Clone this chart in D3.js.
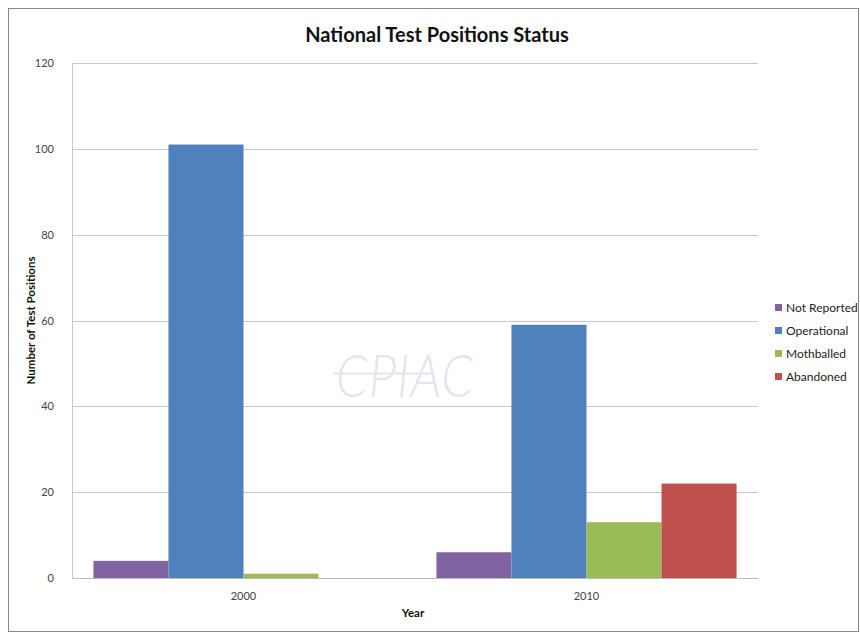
<!DOCTYPE html>
<html>
<head>
<meta charset="utf-8">
<script src="https://cdn.jsdelivr.net/npm/d3@7"></script>
<style>
  body { margin: 0; background: #fff; }
  svg { display: block; font-family: Lato, "Open Sans", sans-serif; }
</style>
</head>
<body>
<svg id="chart" width="860" height="633"></svg>
<script>
const years = ['2000', '2010'];
const statuses = ['Not Reported', 'Operational', 'Mothballed', 'Abandoned'];
const notReported = [4, 6];
const operational = [101, 59];
const mothballed = [1, 13];
const abandoned = [0, 22];
const yTicks = [0, 20, 40, 60, 80, 100, 120];

const colors = d3.scaleOrdinal().domain(statuses)
    .range(['#8064A2', '#4F81BD', '#9BBB59', '#C0504D']);

const rows = years.map((y, i) => ({
    year: y,
    values: [notReported[i], operational[i], mothballed[i], abandoned[i]]
}));

const svg = d3.select('#chart');
const margin = { top: 63, right: 102, bottom: 55, left: 72 };
const width = 860 - margin.left - margin.right;
const height = 633 - margin.top - margin.bottom;

// outer frame
svg.append('rect')
    .attr('x', 8.5).attr('y', 8.5)
    .attr('width', 850).attr('height', 623)
    .attr('fill', 'none').attr('stroke', '#888');

svg.append('text')
    .attr('x', 437).attr('y', 42)
    .attr('text-anchor', 'middle')
    .style('font-size', '20px').style('font-weight', 'bold')
    .attr('fill', '#111')
    .text('National Test Positions Status');

const g = svg.append('g').attr('transform', `translate(${margin.left},${margin.top})`);

const x0 = d3.scaleBand().domain(years).range([0, width]).paddingInner(0.125).paddingOuter(0.0625);
const x1 = d3.scaleBand().domain(statuses).range([0, x0.bandwidth()]);
const y = d3.scaleLinear().domain([0, 120]).range([height, 0]);

// gridlines
g.append('g')
    .selectAll('line')
    .data(yTicks)
    .enter().append('line')
    .attr('x1', 0).attr('x2', width)
    .attr('y1', d => Math.round(y(d)) + 0.5).attr('y2', d => Math.round(y(d)) + 0.5)
    .attr('stroke', '#c8c8c8');

// watermark
const wm = g.append('g').attr('transform', `translate(${(width / 2) - 10},${y(50) + 22})`);
wm.append('line')
    .attr('x1', -72).attr('x2', 30).attr('y1', -12).attr('y2', -12)
    .attr('stroke', '#e3e5ee').attr('stroke-width', 2);
wm.append('text')
    .attr('text-anchor', 'middle')
    .attr('y', 12)
    .attr('transform', 'scale(0.85,1)')
    .style('font-size', '60px').style('font-style', 'italic').style('font-weight', '300')
    .style('letter-spacing', '1px')
    .attr('fill', '#e4e6ef')
    .text('CPIAC');

// bars
g.selectAll('.group')
    .data(rows)
    .enter().append('g')
    .attr('class', 'group')
    .attr('transform', d => `translate(${x0(d.year)},0)`)
    .selectAll('rect')
    .data(d => d.values.map((v, i) => ({ key: statuses[i], value: v })))
    .enter().append('rect')
    .attr('x', d => x1(d.key))
    .attr('y', d => y(d.value))
    .attr('width', x1.bandwidth())
    .attr('height', d => height - y(d.value))
    .attr('fill', d => colors(d.key));

// y axis
const yAxis = g.append('g')
    .call(d3.axisLeft(y).tickValues(yTicks).tickSize(0).tickPadding(18));
yAxis.select('.domain').attr('stroke', '#c8c8c8');
yAxis.selectAll('text').style('font-size', '11px').attr('fill', '#444')
    .style('font-family', 'Lato, "Open Sans", sans-serif');

// x axis
const xAxis = g.append('g')
    .attr('transform', `translate(0,${height})`)
    .call(d3.axisBottom(x0).tickSize(0).tickPadding(14));
xAxis.select('.domain').attr('stroke', '#bbb');
xAxis.selectAll('text').style('font-size', '11px').attr('fill', '#444')
    .style('font-family', 'Lato, "Open Sans", sans-serif');

// axis titles
svg.append('text')
    .attr('transform', `translate(35,${margin.top + height / 2}) rotate(-90)`)
    .attr('text-anchor', 'middle')
    .style('font-size', '11.5px').style('font-weight', 'bold')
    .attr('fill', '#111')
    .text('Number of Test Positions');

svg.append('text')
    .attr('x', margin.left + width / 2 - 2).attr('y', 617)
    .attr('text-anchor', 'middle')
    .style('font-size', '11.5px').style('font-weight', 'bold')
    .attr('fill', '#111')
    .text('Year');

// legend
const legend = svg.append('g').attr('transform', 'translate(775,308)');
const item = legend.selectAll('g')
    .data(statuses)
    .enter().append('g')
    .attr('transform', (d, i) => `translate(0,${i * 23})`);
item.append('rect')
    .attr('x', 0).attr('y', -4)
    .attr('width', 7).attr('height', 7)
    .attr('fill', d => colors(d));
item.append('text')
    .attr('x', 11).attr('y', 4)
    .style('font-size', '12px')
    .attr('fill', '#222')
    .text(d => d);
</script>
</body>
</html>
